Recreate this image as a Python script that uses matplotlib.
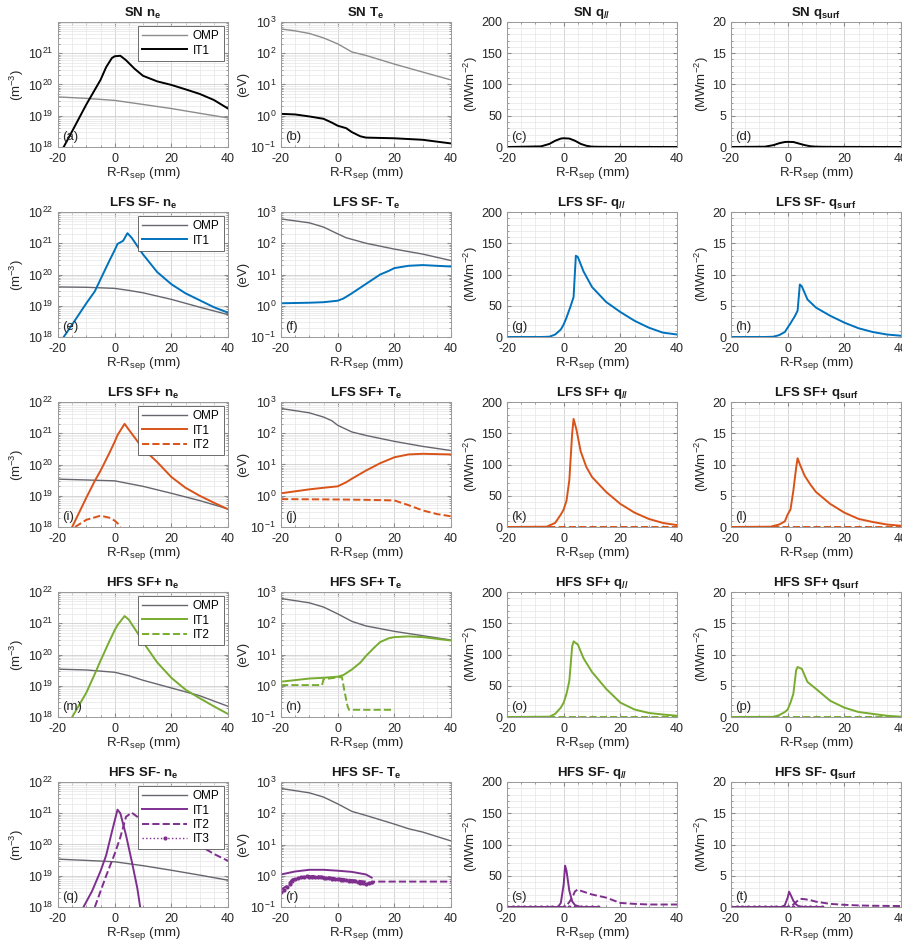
import matplotlib
matplotlib.use("Agg")
import matplotlib.pyplot as plt
from matplotlib.ticker import MultipleLocator, LogLocator, NullFormatter, FixedLocator

plt.rcParams['font.family'] = ['Liberation Sans', 'DejaVu Sans']
plt.rcParams['mathtext.default'] = 'regular'
plt.rcParams['axes.unicode_minus'] = False

# ---------------- data ----------------
# Row 1: SN
sn_ne_omp_x = [-20, -10, 0, 10, 20, 30, 40]
sn_ne_omp_y = [4e19, 3.6e19, 3.1e19, 2.3e19, 1.7e19, 1.2e19, 8.5e18]
sn_ne_it1_x = [-18, -15, -10, -5, -3, -1, 0, 2, 4, 7, 10, 15, 20, 25, 30, 35, 40]
sn_ne_it1_y = [1e18, 3.2e18, 2.3e19, 1.4e20, 3.6e20, 7e20, 8e20, 8.3e20, 6e20, 3.2e20, 1.9e20,
               1.26e20, 9.7e19, 7e19, 5e19, 3.2e19, 1.7e19]
sn_te_omp_x = [-20, -15, -10, -5, 0, 3, 5, 10, 20, 30, 40]
sn_te_omp_y = [600, 520, 430, 310, 200, 140, 110, 85, 45, 25, 14]
sn_te_it1_x = [-20, -15, -10, -5, -2, 0, 3, 5, 8, 10, 20, 30, 40]
sn_te_it1_y = [1.15, 1.1, 0.95, 0.8, 0.6, 0.48, 0.4, 0.3, 0.22, 0.2, 0.19, 0.17, 0.13]
sn_q_x = [-20, -8, -5, -3, -1, 0, 2, 4, 6, 8, 10, 15, 40]
sn_qpar_y = [0, 1, 5, 10, 13.5, 14, 13.5, 10, 5, 2, 0.5, 0.2, 0]
sn_qsurf_y = [0, 0.05, 0.3, 0.6, 0.8, 0.82, 0.8, 0.55, 0.3, 0.12, 0.05, 0.02, 0]

# Row 2: LFS SF-
lm_ne_omp_x = [-20, -10, 0, 5, 10, 20, 30, 40]
lm_ne_omp_y = [4e19, 3.9e19, 3.6e19, 3.1e19, 2.6e19, 1.6e19, 9e18, 5.2e18]
lm_ne_it1_x = [-18, -15, -10, -7, -5, -2, 0, 1, 3, 4.5, 6, 10, 15, 20, 25, 30, 35, 40]
lm_ne_it1_y = [1e18, 2.5e18, 1.2e19, 2.9e19, 7e19, 2.6e20, 6e20, 9.5e20, 1.2e21, 2.1e21, 1.5e21,
               4.4e20, 1.2e20, 4.9e19, 2.5e19, 1.5e19, 9e18, 6e18]
lm_te_omp_x = [-20, -10, -5, 0, 3, 10, 20, 30, 40]
lm_te_omp_y = [600, 450, 330, 200, 150, 100, 65, 45, 28]
lm_te_it1_x = [-20, -10, -5, 0, 2, 5, 10, 15, 18, 20, 25, 30, 40]
lm_te_it1_y = [1.2, 1.25, 1.3, 1.45, 1.7, 2.5, 5, 10, 13, 16, 19, 20, 18]
lm_q_x = [-20, -8, -5, -3, -1, 0, 1, 2.5, 3.5, 4.3, 5, 7, 10, 15, 20, 25, 30, 35, 40]
lm_qpar_y = [0, 0, 0.5, 4, 12, 20, 31, 50, 64, 130, 128, 105, 80, 56, 40, 26, 15, 7, 4]
lm_qsurf_y = [0, 0, 0.05, 0.3, 0.8, 1.5, 2.2, 3.3, 4.2, 8.4, 8.1, 6.0, 4.7, 3.4, 2.3, 1.4, 0.8, 0.4, 0.2]

# Row 3: LFS SF+
lp_ne_omp_x = [-20, -10, 0, 10, 20, 30, 40]
lp_ne_omp_y = [3.4e19, 3.2e19, 3e19, 2e19, 1.2e19, 7e18, 3.8e18]
lp_ne_it1_x = [-15, -10, -7, -5, -2, 0, 1, 3.5, 5, 10, 15, 20, 25, 30, 35, 40]
lp_ne_it1_y = [1e18, 8.7e18, 3e19, 6.3e19, 2.2e20, 5.3e20, 8.7e20, 2e21, 1.3e21, 3.2e20, 1.2e20,
               4e19, 1.8e19, 1e19, 6e18, 3.7e18]
lp_ne_it2_x = [-14, -10, -5, -2, 0, 1.5, 2]
lp_ne_it2_y = [1e18, 1.7e18, 2.3e18, 2e18, 1.6e18, 1.2e18, 1e18]
lp_te_omp_x = [-20, -10, -5, -2, 0, 5, 10, 20, 30, 40]
lp_te_omp_y = [620, 450, 330, 250, 180, 110, 85, 55, 38, 28]
lp_te_it1_x = [-20, -10, -5, 0, 3, 5, 10, 15, 20, 25, 30, 40]
lp_te_it1_y = [1.2, 1.6, 1.8, 2.0, 2.7, 3.5, 6.4, 11, 17, 21, 22, 21]
lp_te_it2_x = [-20, 0, 10, 20, 25, 30, 35, 40]
lp_te_it2_y = [0.78, 0.76, 0.74, 0.71, 0.5, 0.34, 0.26, 0.22]
lp_q_x = [-20, -6, -3, -1, 0, 1, 2, 3, 3.5, 4.5, 6, 8, 10, 15, 20, 25, 30, 35, 40]
lp_qpar_y = [0, 0.5, 6.5, 20, 28, 42, 75, 150, 173, 156, 121, 96, 80, 56, 37, 23, 13, 6.5, 3]
lp_qsurf_y = [0, 0.05, 0.4, 0.9, 2, 2.8, 5.8, 9.5, 11, 9.8, 8.2, 6.8, 5.6, 3.7, 2.3, 1.3, 0.8, 0.4, 0.2]
lp_q_it2_x = [-20, 40]
lp_q_it2_y = [0, 0]

# Row 4: HFS SF+
hp_ne_omp_x = [-20, -10, 0, 5, 10, 20, 30, 40]
hp_ne_omp_y = [3.4e19, 3.2e19, 2.7e19, 2.1e19, 1.5e19, 8.5e18, 4.8e18, 2.2e18]
hp_ne_it1_x = [-15, -10, -7, -5, -2, 0, 1, 3.5, 5, 8, 10, 15, 20, 25, 30, 35, 40]
hp_ne_it1_y = [1e18, 6e18, 2.4e19, 6.3e19, 2.5e20, 6e20, 8.7e20, 1.7e21, 1.3e21, 5e20, 2.5e20,
               5.6e19, 1.8e19, 7.5e18, 4e18, 2.2e18, 1.25e18]
hp_te_omp_x = [-20, -10, -5, 0, 5, 10, 20, 30, 40]
hp_te_omp_y = [620, 450, 330, 200, 115, 82, 55, 40, 29]
hp_te_it1_x = [-20, -10, -5, 0, 2, 5, 8, 10, 13, 15, 18, 20, 25, 30, 40]
hp_te_it1_y = [1.35, 1.7, 1.8, 1.95, 2.2, 3.3, 5.5, 9, 17, 25, 33, 36, 38, 36, 28]
hp_te_it2_x = [-20, -5.5, -5, -2, 0, 1.5, 2.5, 3.5, 4, 20]
hp_te_it2_y = [1.05, 1.05, 1.6, 1.75, 1.85, 1.9, 0.6, 0.22, 0.17, 0.17]
hp_q_x = [-20, -5, -3, -1, 0, 1, 2, 3, 3.5, 5, 7, 10, 15, 20, 25, 30, 35, 40]
hp_qpar_y = [0, 0.5, 5, 15, 23, 37, 58, 113, 121, 116, 94, 72, 45, 23, 12, 6.5, 4, 2]
hp_qsurf_y = [0, 0.03, 0.3, 0.8, 1.2, 2.3, 3.7, 7.5, 8.0, 7.7, 5.6, 4.5, 2.6, 1.5, 0.8, 0.5, 0.2, 0.05]
hp_q_it2_x = [-20, 40]
hp_q_it2_y = [0, 0]

# Row 5: HFS SF-
hm_ne_omp_x = [-20, -10, 0, 10, 20, 30, 40]
hm_ne_omp_y = [3.4e19, 3.1e19, 2.8e19, 2.1e19, 1.5e19, 1.05e19, 7.2e18]
hm_ne_it1_x = [-11, -8, -5, -3, -1, 1, 2, 4, 6, 8, 9]
hm_ne_it1_y = [1e18, 3.2e18, 1.4e19, 4.5e19, 2.5e20, 1.3e21, 1e21, 2e20, 3e19, 4e18, 1e18]
hm_ne_it2_x = [-7, -3, 0, 2, 4, 6, 8, 10, 30, 35, 40]
hm_ne_it2_y = [1e18, 1e19, 5e19, 1.7e20, 7.7e20, 1.05e21, 7.7e20, 5.6e20, 9.3e19, 5e19, 3e19]
hm_te_omp_x = [-20, -10, -5, 0, 5, 10, 20, 25, 30, 40]
hm_te_omp_y = [620, 450, 330, 200, 115, 85, 45, 32, 25, 13]
hm_te_it1_x = [-20, -15, -10, -5, 0, 5, 10, 12]
hm_te_it1_y = [1.1, 1.37, 1.55, 1.55, 1.45, 1.33, 1.1, 0.87]
hm_te_it2_x = [-20, -18, -16, -12, -8, 0, 5, 10, 12, 13, 40]
hm_te_it2_y = [0.36, 0.47, 0.77, 0.94, 0.99, 0.83, 0.73, 0.65, 0.56, 0.65, 0.65]
hm_te_it3_x = [-20, -19, -18, -17, -16, -15, -14, -13, -12, -11, -10, -9, -8, -7, -6, -5, -4, -3,
               -2, -1, 0, 1, 2, 3, 4, 5, 6, 7, 8, 9, 10, 11, 12]
hm_te_it3_y = [0.3, 0.36, 0.45, 0.55, 0.68, 0.78, 0.85, 0.9, 0.93, 0.95, 0.94, 0.92, 0.9, 0.9,
               0.88, 0.86, 0.85, 0.83, 0.8, 0.78, 0.76, 0.75, 0.74, 0.72, 0.7, 0.68, 0.66, 0.65,
               0.6, 0.58, 0.55, 0.6, 0.62]
hm_q_it1_x = [-20, -2, -1, 0, 0.5, 1, 2, 3, 4, 6, 12]
hm_qpar_it1_y = [0, 0, 6.5, 36, 66, 58, 26, 9, 3, 0, 0]
hm_qsurf_it1_y = [0, 0, 0.3, 1.5, 2.45, 2.0, 1.0, 0.4, 0.1, 0, 0]
hm_q_it2_x = [-20, 0, 1, 2, 3, 4, 5, 6, 8, 10, 15, 20, 25, 30, 40]
hm_qpar_it2_y = [0, 0, 2, 8, 15, 25, 28, 26, 23, 20, 15, 6.5, 5, 4, 4]
hm_qsurf_it2_y = [0, 0, 0.1, 0.4, 0.8, 1.2, 1.3, 1.25, 1.1, 0.85, 0.5, 0.35, 0.25, 0.2, 0.15]
hm_q_it3_x = [-20, -18, -16, -14, -12, -10, -8, -6, -4, -2, 0, 2, 4, 6, 8, 10, 12]
hm_q_it3_y = [0, 0, 0, 0, 0, 0, 0, 0, 0, 0, 0, 0, 0, 0, 0, 0, 0]

row_names = ["SN", "LFS SF-", "LFS SF+", "HFS SF+", "HFS SF-"]
row_colors = ["black", "#0072BD", "#D95319", "#77AC30", "#7E2F8E"]
panel_letters = "abcdefghijklmnopqrst"

# ---------------- layout ----------------
W, H = 902, 947
fig = plt.figure(figsize=(W / 100, H / 100), dpi=100)
col_left_px = [58, 281, 507, 731]
ax_w_px = 170
ax_h_px = 125
row_bottom_px = [147, 337, 527, 717, 907]

def make_ax(r, c):
    left = col_left_px[c] / W
    bottom = 1 - row_bottom_px[r] / H
    w = ax_w_px / W if c < 3 else (W - 1 - col_left_px[c]) / W
    return fig.add_axes([left, bottom, w, ax_h_px / H])

grid_major = dict(color="#cfcfcf", linewidth=0.6)
grid_minor = dict(color="#e6e6e6", linewidth=0.5)
tick_color = "#262626"

def style(ax, kind, r, c):
    ax.set_xlim(-20, 40)
    ax.xaxis.set_major_locator(FixedLocator([-20, 0, 20, 40]))
    ax.xaxis.set_minor_locator(MultipleLocator(5))
    if kind == "ne":
        ax.set_yscale("log")
        ax.set_ylim(1e18, 1e22)
        if r == 0:
            ax.yaxis.set_major_locator(FixedLocator([1e18, 1e19, 1e20, 1e21]))
        else:
            ax.yaxis.set_major_locator(LogLocator(base=10, numticks=10))
        ax.yaxis.set_minor_locator(LogLocator(base=10, subs=range(2, 10), numticks=20))
        ax.yaxis.set_minor_formatter(NullFormatter())
        ax.set_ylabel("(m$^{-3}$)", fontsize=9.5, color=tick_color, labelpad=1)
    elif kind == "te":
        ax.set_yscale("log")
        ax.set_ylim(1e-1, 1e3)
        ax.yaxis.set_major_locator(LogLocator(base=10, numticks=10))
        ax.yaxis.set_minor_locator(LogLocator(base=10, subs=range(2, 10), numticks=20))
        ax.yaxis.set_minor_formatter(NullFormatter())
        ax.set_ylabel("(eV)", fontsize=9.5, color=tick_color, labelpad=1)
    elif kind == "qpar":
        ax.set_ylim(0, 200)
        ax.yaxis.set_major_locator(MultipleLocator(50))
        ax.yaxis.set_minor_locator(MultipleLocator(10))
        ax.set_ylabel("(MWm$^{-2}$)", fontsize=9.5, color=tick_color, labelpad=1)
    else:
        ax.set_ylim(0, 20)
        ax.yaxis.set_major_locator(MultipleLocator(5))
        ax.yaxis.set_minor_locator(MultipleLocator(1))
        ax.set_ylabel("(MWm$^{-2}$)", fontsize=9.5, color=tick_color, labelpad=1)
    ax.grid(True, which="major", **grid_major)
    ax.grid(True, which="minor", **grid_minor)
    ax.set_axisbelow(True)
    ax.tick_params(which="both", direction="in", top=True, right=True, colors="#8a8a8a",
                   labelcolor=tick_color, labelsize=9)
    ax.tick_params(which="major", length=3)
    ax.tick_params(which="minor", length=1.5)
    ax.tick_params(axis="x", which="major", pad=4.5)
    for s in ax.spines.values():
        s.set_color("#9a9a9a")
        s.set_linewidth(0.7)
    ax.set_xlabel("R-R$_{sep}$ (mm)", fontsize=9.5, color=tick_color, labelpad=0)
    idx = r * 4 + c
    ax.text(0.025, 0.03, "(" + panel_letters[idx] + ")", transform=ax.transAxes,
            fontsize=9.5, color=tick_color, ha="left", va="bottom")

titles_q = ["n$_e$", "T$_e$", "q$_{//}$", "q$_{surf}$"]
kinds = ["ne", "te", "qpar", "qsurf"]

omp_colors = ["#8c8c8c", "#66666e", "#66666e", "#66666e", "#66666e"]
lw_it = 1.4
lw_omp = 1.0

axes = {}
for r in range(5):
    for c in range(4):
        ax = make_ax(r, c)
        axes[(r, c)] = ax
        style(ax, kinds[c], r, c)
        ax.set_title(row_names[r] + " " + titles_q[c], fontsize=9.5, fontweight="bold",
                     color="#1a1a1a", pad=4)

def leg(ax):
    ax.legend(loc="upper right", fontsize=8.5, handlelength=3.8, handletextpad=0.5,
              borderpad=0.35, labelspacing=0.2, borderaxespad=0.35, fancybox=False,
              framealpha=1, edgecolor="#555555").get_frame().set_linewidth(0.6)

# Row 1
col = row_colors[0]
a = axes[(0, 0)]
a.plot(sn_ne_omp_x, sn_ne_omp_y, color=omp_colors[0], lw=lw_omp, label="OMP")
a.plot(sn_ne_it1_x, sn_ne_it1_y, color=col, lw=lw_it, label="IT1")
leg(a)
a = axes[(0, 1)]
a.plot(sn_te_omp_x, sn_te_omp_y, color=omp_colors[0], lw=lw_omp)
a.plot(sn_te_it1_x, sn_te_it1_y, color=col, lw=lw_it)
axes[(0, 2)].plot(sn_q_x, sn_qpar_y, color=col, lw=lw_it)
axes[(0, 3)].plot(sn_q_x, sn_qsurf_y, color=col, lw=lw_it)

# Row 2
col = row_colors[1]
a = axes[(1, 0)]
a.plot(lm_ne_omp_x, lm_ne_omp_y, color=omp_colors[1], lw=lw_omp, label="OMP")
a.plot(lm_ne_it1_x, lm_ne_it1_y, color=col, lw=lw_it, label="IT1")
leg(a)
a = axes[(1, 1)]
a.plot(lm_te_omp_x, lm_te_omp_y, color=omp_colors[1], lw=lw_omp)
a.plot(lm_te_it1_x, lm_te_it1_y, color=col, lw=lw_it)
axes[(1, 2)].plot(lm_q_x, lm_qpar_y, color=col, lw=lw_it)
axes[(1, 3)].plot(lm_q_x, lm_qsurf_y, color=col, lw=lw_it)

# Row 3
col = row_colors[2]
a = axes[(2, 0)]
a.plot(lp_ne_omp_x, lp_ne_omp_y, color=omp_colors[2], lw=lw_omp, label="OMP")
a.plot(lp_ne_it1_x, lp_ne_it1_y, color=col, lw=lw_it, label="IT1")
a.plot(lp_ne_it2_x, lp_ne_it2_y, color=col, lw=lw_it, ls="--", label="IT2")
leg(a)
a = axes[(2, 1)]
a.plot(lp_te_omp_x, lp_te_omp_y, color=omp_colors[2], lw=lw_omp)
a.plot(lp_te_it1_x, lp_te_it1_y, color=col, lw=lw_it)
a.plot(lp_te_it2_x, lp_te_it2_y, color=col, lw=lw_it, ls="--")
a = axes[(2, 2)]
a.plot(lp_q_it2_x, lp_q_it2_y, color=col, lw=lw_it, ls="--")
a.plot(lp_q_x, lp_qpar_y, color=col, lw=lw_it)
a = axes[(2, 3)]
a.plot(lp_q_it2_x, lp_q_it2_y, color=col, lw=lw_it, ls="--")
a.plot(lp_q_x, lp_qsurf_y, color=col, lw=lw_it)

# Row 4
col = row_colors[3]
a = axes[(3, 0)]
a.plot(hp_ne_omp_x, hp_ne_omp_y, color=omp_colors[3], lw=lw_omp, label="OMP")
a.plot(hp_ne_it1_x, hp_ne_it1_y, color=col, lw=lw_it, label="IT1")
a.plot([], [], color=col, lw=lw_it, ls="--", label="IT2")
leg(a)
a = axes[(3, 1)]
a.plot(hp_te_omp_x, hp_te_omp_y, color=omp_colors[3], lw=lw_omp)
a.plot(hp_te_it1_x, hp_te_it1_y, color=col, lw=lw_it)
a.plot(hp_te_it2_x, hp_te_it2_y, color=col, lw=lw_it, ls="--")
a = axes[(3, 2)]
a.plot(hp_q_it2_x, hp_q_it2_y, color=col, lw=lw_it, ls="--")
a.plot(hp_q_x, hp_qpar_y, color=col, lw=lw_it)
a = axes[(3, 3)]
a.plot(hp_q_it2_x, hp_q_it2_y, color=col, lw=lw_it, ls="--")
a.plot(hp_q_x, hp_qsurf_y, color=col, lw=lw_it)

# Row 5
col = row_colors[4]
a = axes[(4, 0)]
a.plot(hm_ne_omp_x, hm_ne_omp_y, color=omp_colors[4], lw=lw_omp, label="OMP")
a.plot(hm_ne_it1_x, hm_ne_it1_y, color=col, lw=lw_it, label="IT1")
a.plot(hm_ne_it2_x, hm_ne_it2_y, color=col, lw=lw_it, ls="--", label="IT2")
a.plot([], [], color=col, lw=1.0, ls=":", marker=".", ms=4, label="IT3")
leg(a)
a = axes[(4, 1)]
a.plot(hm_te_omp_x, hm_te_omp_y, color=omp_colors[4], lw=lw_omp)
a.plot(hm_te_it1_x, hm_te_it1_y, color=col, lw=lw_it)
a.plot(hm_te_it2_x, hm_te_it2_y, color=col, lw=lw_it, ls="--")
a.plot(hm_te_it3_x, hm_te_it3_y, color=col, lw=1.0, ls=":", marker=".", ms=4)
for c, it1y, it2y in [(2, hm_qpar_it1_y, hm_qpar_it2_y), (3, hm_qsurf_it1_y, hm_qsurf_it2_y)]:
    a = axes[(4, c)]
    a.plot(hm_q_it3_x, hm_q_it3_y, color=col, lw=1.0, ls=":", marker=".", ms=4)
    a.plot(hm_q_it1_x, it1y, color=col, lw=lw_it)
    a.plot(hm_q_it2_x, it2y, color=col, lw=lw_it, ls="--")

fig.savefig("out.png", dpi=100)
